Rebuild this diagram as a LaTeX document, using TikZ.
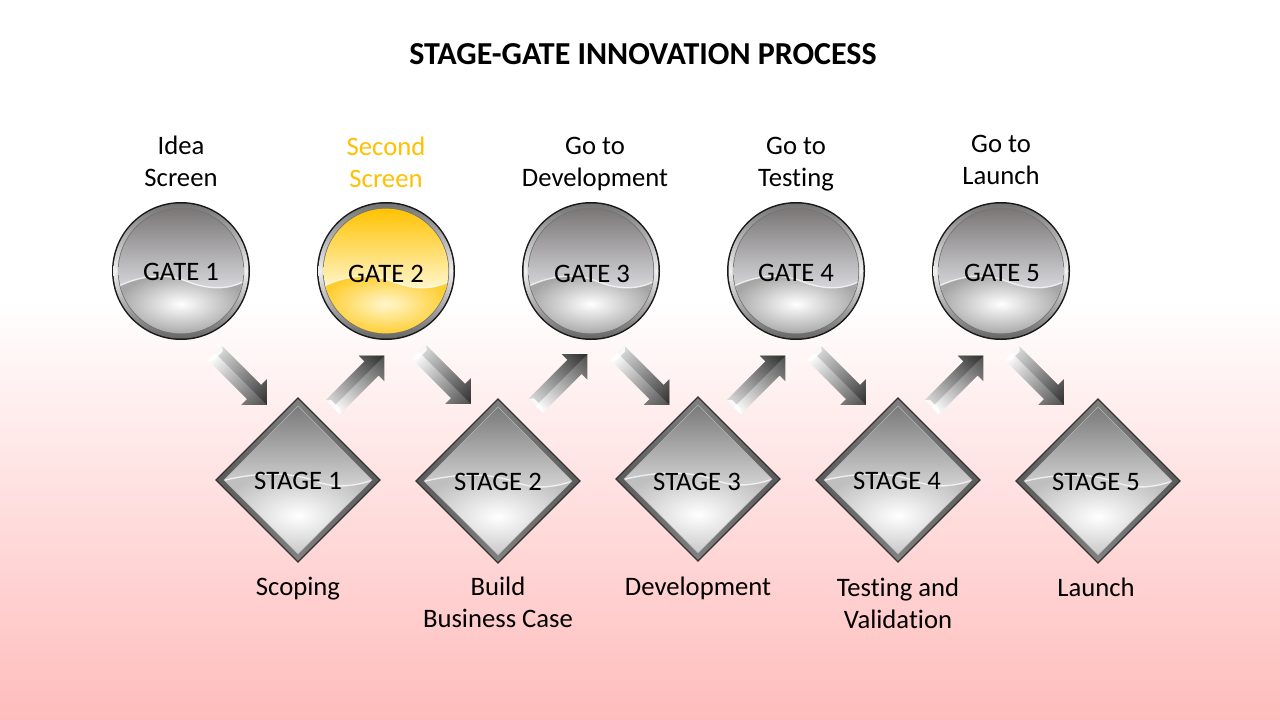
\documentclass[tikz,border=0pt]{standalone}
\usepackage{fontspec}
\setmainfont[Ligatures={NoCommon,NoRequired,NoContextual},RawFeature={-liga;-clig;-dlig;-rlig;-calt}]{Carlito}
\usetikzlibrary{calc,shapes.geometric}
\definecolor{pinkbot}{RGB}{255,188,188}
\definecolor{gold}{RGB}{255,192,0}
\definecolor{goldlight}{RGB}{255,246,205}
\definecolor{goldmid}{RGB}{255,205,45}
\definecolor{goldtop}{RGB}{255,194,0}
\definecolor{gtop}{RGB}{122,118,118}
\definecolor{gmid}{RGB}{216,216,220}
\definecolor{gbot}{RGB}{165,165,165}
\definecolor{dtop}{RGB}{122,122,122}
\definecolor{dmid}{RGB}{210,210,210}

\newcommand\gateball[6]{% x, y, top, mid, bottom outer, glow
 \begin{scope}[shift={(#1,#2)}]
  \fill[black!90] (0,0) circle (69);
  \shade[top color=black!55, bottom color=black!60, middle color=gray!12] (0,0) circle (67.5);
  \fill[black!55] (0,0) circle (63.2);
  \begin{scope}
   \clip (0,0) circle (62.4);
   \shade[top color=#3, bottom color=#4] (-63,-63) rectangle (63,18);
   \shade[inner color=#6, outer color=#5] (-64,16) .. controls (-40,4) and (-15,2) .. (5,10) .. controls (25,18) and (45,20) .. (64,10) -- (64,64) -- (-64,64) -- cycle;
   \draw[white, opacity=.75, line width=1] (-64,16) .. controls (-40,4) and (-15,2) .. (5,10) .. controls (25,18) and (45,20) .. (64,10);
  \end{scope}
 \end{scope}}

\newcommand\stagedia[2]{% x, y
 \begin{scope}[shift={(#1,#2)}]
  \shade[left color=black!65, middle color=gray!12, right color=black!50] (-82,0) -- (0,-82) -- (0,-74) -- (-74,0) -- cycle;
  \shade[left color=black!50, middle color=white, right color=black!65] (0,-82) -- (82,0) -- (74,0) -- (0,-74) -- cycle;
  \shade[left color=black!50, middle color=gray!20, right color=black!65] (82,0) -- (0,82) -- (0,74) -- (74,0) -- cycle;
  \shade[left color=black!65, middle color=white, right color=black!50] (0,82) -- (-82,0) -- (-74,0) -- (0,74) -- cycle;
  \draw[black!80, line width=0.9, line join=miter] (-82,0) -- (0,-82) -- (82,0) -- (0,82) -- cycle;
  \begin{scope}
   \clip (-74,0) -- (0,-74) -- (74,0) -- (0,74) -- cycle;
   \shade[top color=dtop, bottom color=dmid] (-74,-74) rectangle (74,6);
   \shade[inner color=white, outer color=gray!50] (-80,2) .. controls (-40,-9) and (-5,-8) .. (20,2) .. controls (40,9) and (60,6) .. (80,-2) -- (80,80) -- (-80,80) -- cycle;
   \draw[white, opacity=.75, line width=1] (-80,2) .. controls (-40,-9) and (-5,-8) .. (20,2) .. controls (40,9) and (60,6) .. (80,-2);
  \end{scope}
  \draw[black!30, line width=0.5] (-74,0) -- (0,-74) -- (74,0) -- (0,74) -- cycle;
 \end{scope}}

\newcommand\blkarrow[3]{% x, y, angle
 \begin{scope}[transform canvas={shift={(#1,#2)}, rotate=#3}]
  \shade[left color=white, right color=black!70] (-36.5,-10) -- (18.5,-10) -- (18.5,-18) -- (36.5,0) -- (18.5,18) -- (18.5,10) -- (-36.5,10) -- cycle;
  \shade[left color=gray!45, right color=black!90, opacity=.6] (-36.5,-10) -- (18.5,-10) -- (18.5,-18) -- (36.5,0) -- (-36.5,0) -- cycle;
  \fill[white, opacity=.85] (-36.5,-10) -- (-36.5,10) -- (-32.5,6.5) -- (-32.5,-6.5) -- cycle;
 \end{scope}}

\begin{document}
\begin{tikzpicture}[x=0.75pt,y=-0.75pt,
  lbl/.style={font=\fontsize{20}{24}\selectfont, align=center, inner sep=0},
  ttl/.style={font=\fontsize{24}{28}\selectfont\bfseries, inner sep=0},
  gtxt/.style={circle, minimum size=103.5pt, inner sep=0, font=\fontsize{20}{24}\selectfont},
  stxt/.style={diamond, aspect=1, minimum width=123pt, minimum height=123pt, inner sep=0, font=\fontsize{20}{24}\selectfont}]
\useasboundingbox (0,0) rectangle (1280,720);
\fill[white] (0,0) rectangle (1280,300);
\shade[top color=white, bottom color=pinkbot] (0,299) rectangle (1280,720);

\node[ttl] (title) at (643,54) {STAGE-GATE INNOVATION PROCESS};

% gates
\gateball{181}{271}{gtop}{gmid}{gbot}{white}
\gateball{386}{271}{goldtop}{goldlight}{goldmid}{goldlight}
\gateball{591}{271}{gtop}{gmid}{gbot}{white}
\gateball{796}{271}{gtop}{gmid}{gbot}{white}
\gateball{1001}{271}{gtop}{gmid}{gbot}{white}

% stages
\stagedia{298}{480}
\stagedia{498}{481}
\stagedia{698}{479}
\stagedia{898}{480}
\stagedia{1098}{481}

% arrows
\blkarrow{241}{379}{-45}
\blkarrow{445}{378}{-45}
\blkarrow{643.5}{379}{-45}
\blkarrow{840}{379}{-45}
\blkarrow{1038}{379}{-45}
\blkarrow{358.5}{381.5}{45}
\blkarrow{561.5}{380}{45}
\blkarrow{759.5}{381.5}{45}
\blkarrow{957.5}{381.5}{45}

% gate texts
\node[gtxt] (g1) at (181,272) {GATE 1};
\node[gtxt] (g2) at (386,274) {GATE 2};
\node[gtxt] (g3) at (592,274) {GATE 3};
\node[gtxt] (g4) at (796,273) {GATE 4};
\node[gtxt] (g5) at (1002,273) {GATE 5};

% stage texts
\node[stxt] (s1) at (298,481) {STAGE 1};
\node[stxt] (s2) at (498,482) {STAGE 2};
\node[stxt] (s3) at (697,482) {STAGE 3};
\node[stxt] (s4) at (897,481) {STAGE 4};
\node[stxt] (s5) at (1096,482) {STAGE 5};

% top labels
\node[lbl] (lg1) at (181,164.2) {\strut Idea\\\strut Screen};
\node[lbl, text=gold] (lg2) at (386,165.2) {\strut Second\\\strut Screen};
\node[lbl] (lg3) at (595,164.2) {\strut Go to\\\strut Development};
\node[lbl] (lg4) at (796,164.2) {\strut Go to\\\strut Testing};
\node[lbl] (lg5) at (1001,162.2) {\strut Go to\\\strut Launch};

% bottom labels
\node[lbl] (ls1) at (298,588.8) {\strut Scoping};
\node[lbl] (ls2) at (498,604.7) {\strut Build\\\strut Business Case};
\node[lbl] (ls3) at (698,588.8) {\strut Development};
\node[lbl] (ls4) at (898,606.2) {\strut Testing and\\\strut Validation};
\node[lbl] (ls5) at (1096,590.2) {\strut Launch};
\end{tikzpicture}
\end{document}
